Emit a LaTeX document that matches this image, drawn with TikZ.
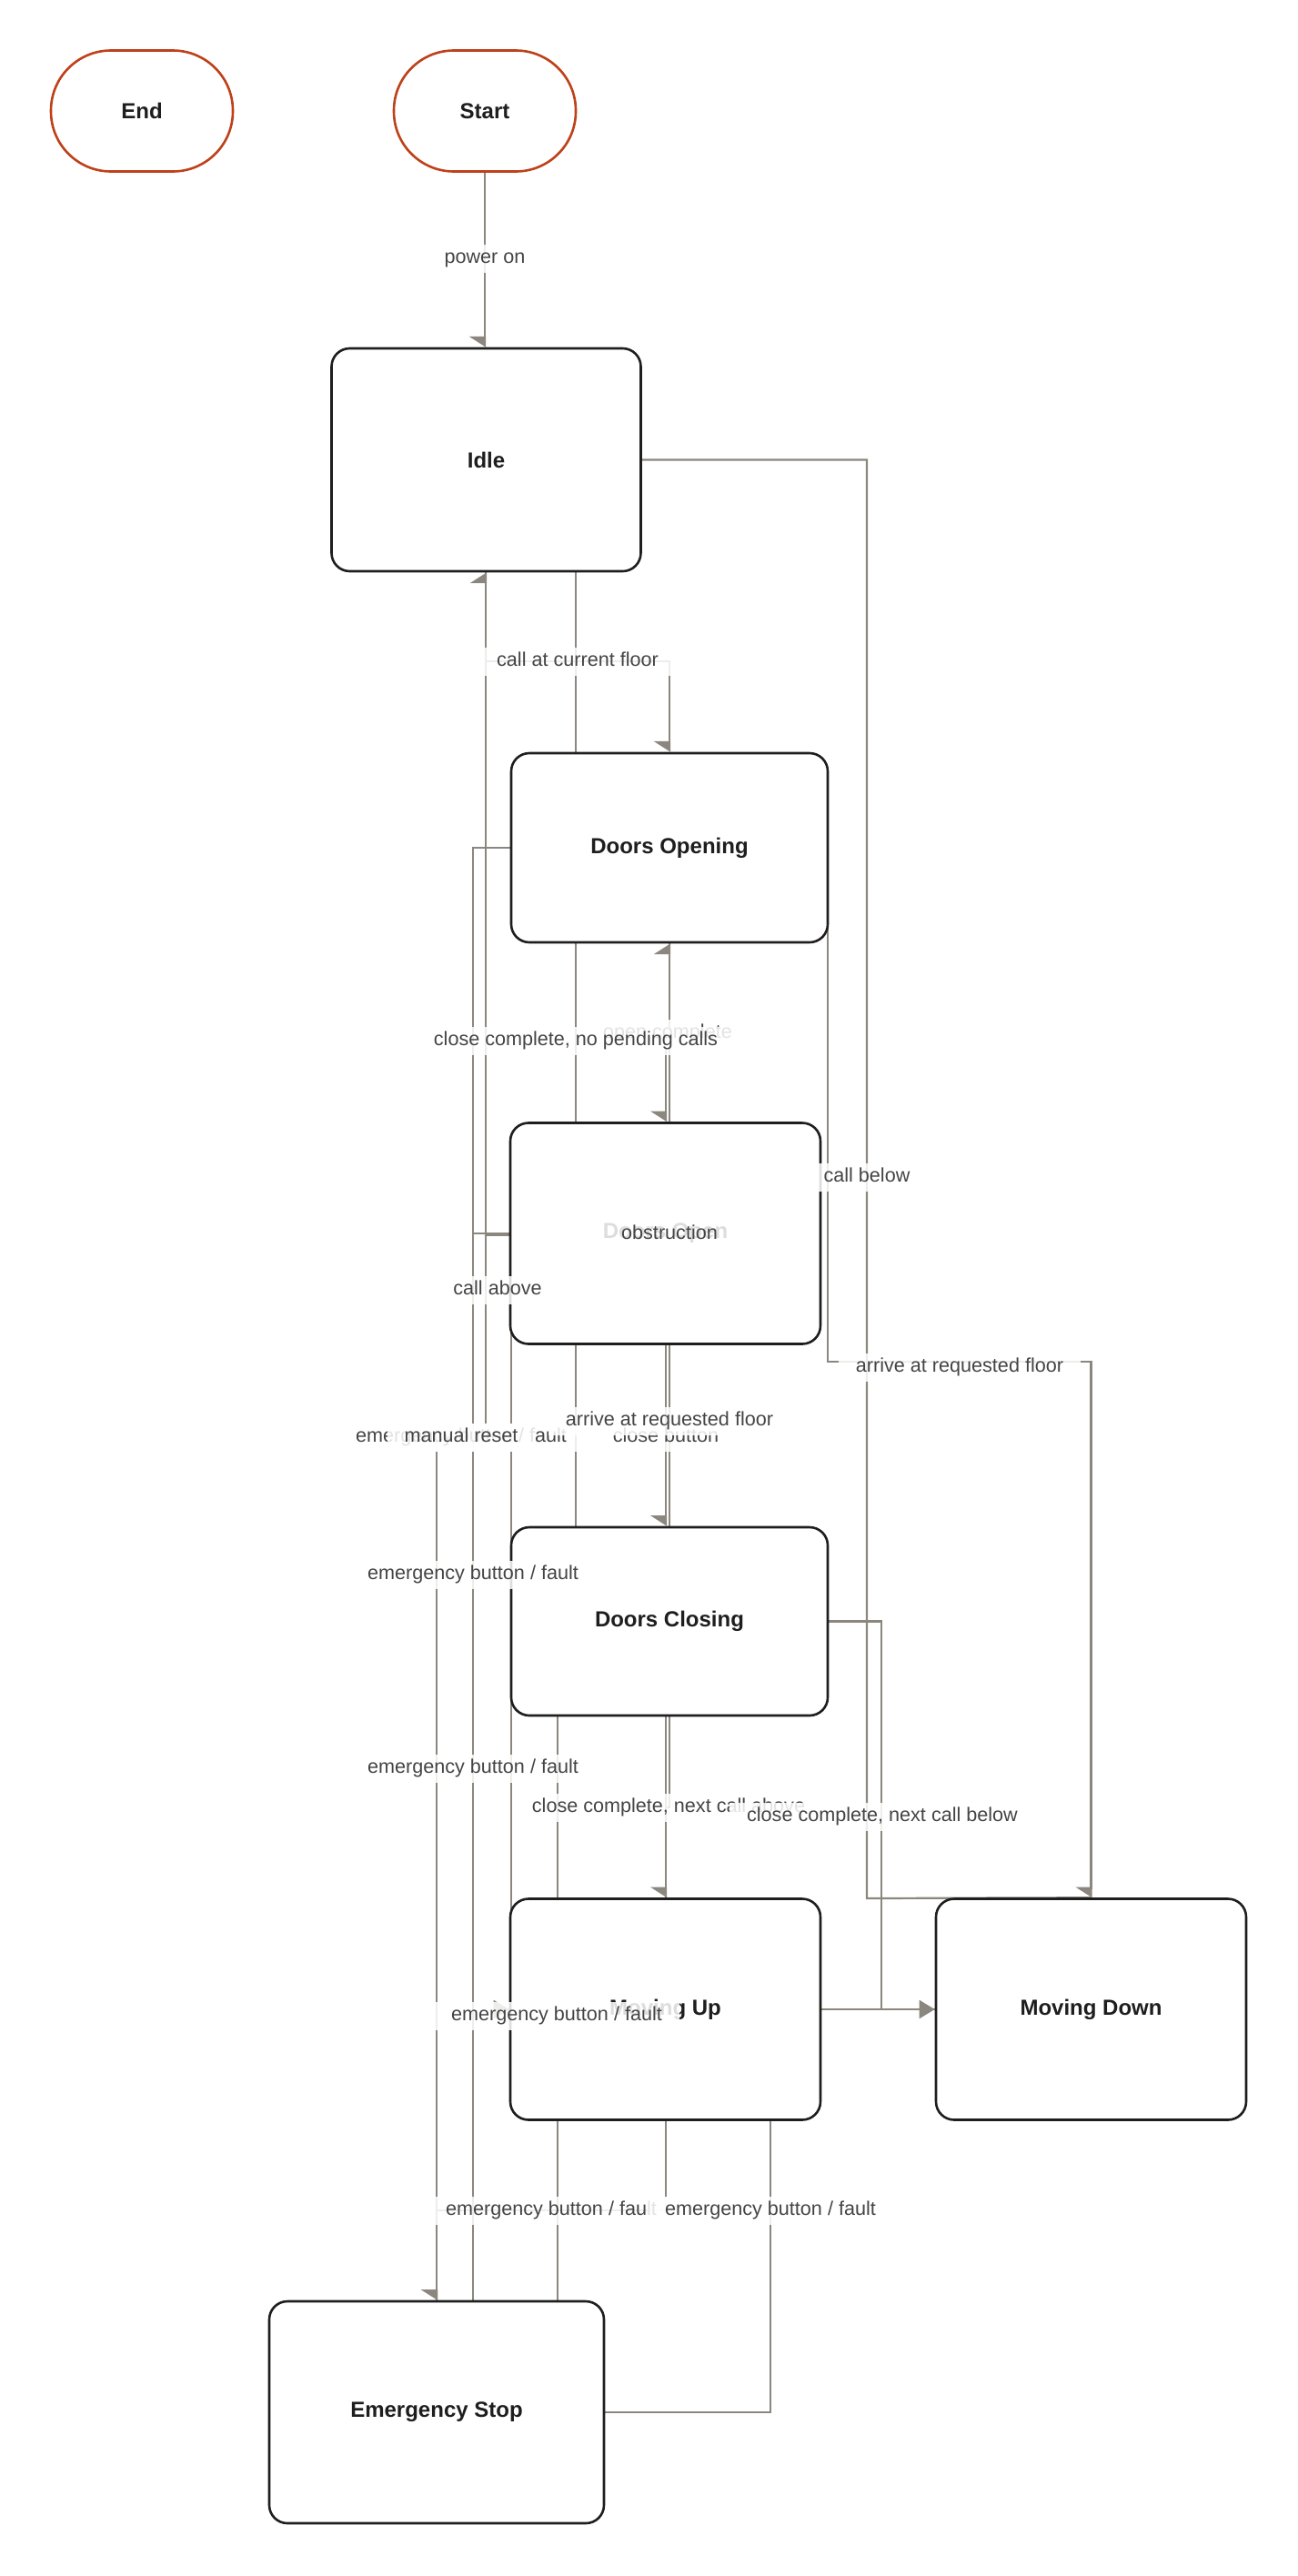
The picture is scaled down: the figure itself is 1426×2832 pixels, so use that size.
\documentclass[tikz,border=0pt]{standalone}
\usepackage{fontspec}
\setmainfont{Liberation Sans}
\usetikzlibrary{arrows.meta,backgrounds}
\definecolor{ink}{RGB}{30,30,30}
\definecolor{rust}{RGB}{190,65,25}
\definecolor{wirecol}{RGB}{140,135,126}
\definecolor{labelcol}{RGB}{68,68,68}
\tikzset{
  state/.style={draw=ink, line width=1.3pt, fill=white, rounded corners=10pt, text=ink, font=\bfseries\fontsize{12}{14}\selectfont},
  terminal/.style={draw=rust, line width=1.3pt, fill=white, rounded corners=33pt, minimum width=100pt, minimum height=66.5pt, text=ink, font=\bfseries\fontsize{12}{14}\selectfont},
  wire/.style={draw=wirecol, line width=1.1pt},
  tipdown/.style={-{Triangle[harpoon,swap,length=5.5pt,width=17pt]}},
  tipup/.style={-{Triangle[harpoon,length=5.5pt,width=17pt]}},
  tipright/.style={-{Triangle[length=8.5pt,width=10pt]}},
  trans/.style={fill=white, fill opacity=.85, text opacity=1, text=labelcol, font=\fontsize{10.8}{12}\selectfont, inner xsep=9.5pt, inner ysep=2.5pt, text height=8pt, text depth=2.5pt},
}
\begin{document}
\begin{tikzpicture}[x=0.5pt, y=-0.5pt]
  \useasboundingbox (0,0) rectangle (1426,2832);
  % states
  \node[terminal] (finish) at (156,122) {End};
  \node[terminal] (start) at (533,122) {Start};
  \node[state, minimum width=170pt, minimum height=122.5pt] (idle) at (534.5,505.5) {Idle};
  \node[state, minimum width=174pt, minimum height=104pt] (dopening) at (736,932) {Doors Opening};
  \node[state, minimum width=170.5pt, minimum height=121.5pt] (dopen) at (731.5,1356) {Doors Open};
  \node[state, minimum width=174pt, minimum height=103.5pt] (dclosing) at (736,1782.5) {Doors Closing};
  \node[state, minimum width=170.5pt, minimum height=121.5pt] (mup) at (731.5,2209) {Moving Up};
  \node[state, minimum width=170.5pt, minimum height=121.5pt] (mdown) at (1199.5,2209) {Moving Down};
  \node[state, minimum width=184pt, minimum height=122pt] (estop) at (480,2652) {Emergency Stop};
  % lanes
  \foreach \x in {480,520,534,613,633,732,736}
    \coordinate (x\x) at (\x,0);
  \begin{scope}[on background layer]
    \draw[wire,tipdown] (start.south) -- (start.south |- idle.north);
    \draw[wire,tipdown] (idle.south -| x534) -- (534,727) -| (dopening.north);
    \draw[wire,tipright] (idle.south -| x534) -- (534,1358) -- (562,1358) -- (562,2209) -- (546,2209) -- (mup.west);
    \draw[wire] (dclosing.north -| x633) -- (idle.south -| x633);
    \draw[wire,tipdown] (dopening.south -| x736) -- (736,1140) -| (dopen.north -| x732);
    \draw[wire,tipup] (dclosing.north -| x736) -- (dopening.south -| x736);
    \draw[wire,tipdown] (dopen.south -| x732) -- (dclosing.north -| x732);
    \draw[wire] (mup.north -| x732) -- (732,1987) -| (dopening.south -| x736);
    \draw[wire,tipdown] (dclosing.south -| x732) -- (mup.north -| x732);
    \draw[wire,tipright] (dclosing.east) -| (969,2209) -- (mdown.west);
    \draw[wire] (idle.east) -| (953,2087) -- (mdown.north);
    \draw[wire,tipdown] (dopening.east) -| (910,1497) -| (mdown.north);
    % emergency stop
    \draw[wire,tipdown] (idle.south -| x534) -- (534,1580) -| (estop.north -| x480);
    \draw[wire,tipup] (estop.north -| x480) -- (480,1580) -| (idle.south -| x534);
    \draw[wire] (dopening.west) -| (estop.north -| x520);
    \draw[wire] (dopen.west) -| (estop.north -| x520);
    \draw[wire] (dclosing.south -| x613) -- (estop.north -| x613);
    \draw[wire,tipdown] (mup.south -| x732) -- (732,2430) -| (estop.north -| x480);
    \draw[wire] (mdown.west) -| (847,2652) -- (estop.east);
  \end{scope}
  % transition labels
  \node[trans] (lpower) at (533,284) {power on};
  \node[trans] (lcurrent) at (635,727) {call at current floor};
  \node[trans] (lopened) at (734,1136) {open complete};
  \node[trans] (lnocalls) at (633,1144) {close complete, no pending calls};
  \node[trans] (lbelow) at (953,1294) {call below};
  \node[trans] (lobstruct) at (736,1357) {obstruction};
  \node[trans] (labove) at (547,1418) {call above};
  \node[trans] (larrivedown) at (1055,1503) {arrive at requested floor};
  \node[trans] (lemidle) at (507,1580) {emergency button / fault};
  \node[trans] (lreset) at (507,1580) {manual reset};
  \node[trans] (lclosebtn) at (732,1580) {close button};
  \node[trans] (larriveup) at (736,1562) {arrive at requested floor};
  \node[trans] (lemopening) at (520,1731) {emergency button / fault};
  \node[trans] (lemopen) at (520,1944) {emergency button / fault};
  \node[trans] (lnextup) at (735,1987) {close complete, next call above};
  \node[trans] (lnextdown) at (970,1997) {close complete, next call below};
  \node[trans] (lemclosing) at (612,2216) {emergency button / fault};
  \node[trans] (lemup) at (606,2430) {emergency button / fault};
  \node[trans] (lemdown) at (847,2430) {emergency button / fault};
\end{tikzpicture}
\end{document}
